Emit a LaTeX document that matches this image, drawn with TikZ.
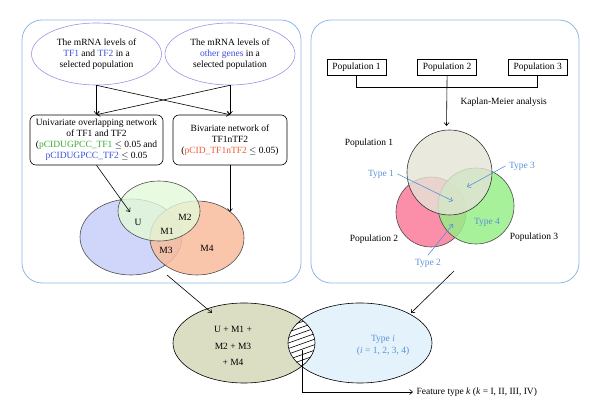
\documentclass[tikz,border=0pt]{standalone}
\usepackage{fontspec}
\setmainfont{Liberation Serif}
\usetikzlibrary{positioning,shapes.geometric,arrows.meta}

\definecolor{panelblue}{RGB}{140,185,232}
\definecolor{lavender}{RGB}{160,145,228}
\definecolor{genblue}{RGB}{60,80,220}
\definecolor{pgreen}{RGB}{60,170,50}
\definecolor{pred}{RGB}{240,90,50}
\definecolor{typeblue}{RGB}{90,145,215}
\definecolor{setblue}{RGB}{207,214,250}
\definecolor{setgreen}{RGB}{226,249,216}
\definecolor{setorange}{RGB}{249,188,156}
\definecolor{popgrey}{RGB}{228,228,214}
\definecolor{poppink}{RGB}{251,143,170}
\definecolor{popgreen}{RGB}{150,238,135}
\definecolor{sumolive}{RGB}{220,222,196}
\definecolor{typesky}{RGB}{228,242,252}

\tikzset{
  panel/.style={draw=panelblue, line width=0.8pt, rounded corners=20pt},
  lvl/.style={ellipse, draw=lavender, align=center, minimum width=130pt, minimum height=62pt, inner sep=0pt},
  netbox/.style={draw, rounded corners=6pt, align=center, minimum height=50pt, inner sep=1pt},
  popbox/.style={draw, minimum width=59pt, minimum height=16pt, inner sep=1pt},
  typetext/.style={text=typeblue},
  typearrow/.style={->, draw=typeblue},
}

\begin{document}
\begin{tikzpicture}[x=1pt, y=-1pt, font=\fontsize{9.5}{11}\selectfont, semithick,
    >={Straight Barb[length=3pt,width=5pt]}]
  \useasboundingbox (0,0) rectangle (600,419);

  % two panels
  \draw[panel] (22,20) rectangle (301,283);
  \draw[panel] (311,20) rectangle (579,283);

  % left panel: inputs and networks
  \node[lvl] (lvlTF) at (96.5,54) {The mRNA levels of\\\textcolor{genblue}{TF1} and \textcolor{genblue}{TF2} in a\\selected population};
  \node[lvl] (lvlOther) at (230,54) {The mRNA levels of\\\textcolor{genblue}{other genes} in a\\selected population};

  \node[netbox, minimum width=133pt] (uni) at (96.5,140) {Univariate overlapping network\\of TF1 and TF2\\(\textcolor{pgreen}{pCIDUGPCC\_TF1} $\leq$ 0.05 and\\\textcolor{genblue}{pCIDUGPCC\_TF2} $\leq$ 0.05};
  \node[netbox, minimum width=114pt] (bi) at (230,140) {Bivariate network of\\TF1nTF2\\(\textcolor{pred}{pCID\_TF1nTF2} $\leq$ 0.05)};

  \draw[->] (lvlTF.south) -- (uni.north);
  \draw[->] (lvlTF.south) -- (bi.north);
  \draw[->] (lvlOther.south) -- (bi.north);
  \draw[->] (lvlOther.south) -- (uni.north);

  % left Venn
  \node[ellipse, draw=black!70, fill=setblue, minimum width=102pt, minimum height=76pt] (setBlue) at (131,237) {};
  \node[ellipse, draw=black!70, fill=setorange, fill opacity=0.85, minimum width=94pt, minimum height=74pt] (setOrange) at (197,238) {};
  \node[ellipse, draw=black!70, fill=setgreen, fill opacity=0.8, minimum width=82pt, minimum height=60pt] (setGreen) at (159,211) {};
  \node (lbU) at (138,222) {U};
  \node (lbM2) at (185,217) {M2};
  \node (lbM1) at (167,231) {M1};
  \node (lbM3) at (166,250) {M3};
  \node (lbM4) at (207,248) {M4};

  \coordinate (uIn) at (130,212);
  \coordinate (m4In) at (230,212);
  \draw[->] (uni.south) -- (uIn);
  \draw[->] (bi.south) -- (m4In);

  % right panel: populations
  \node[popbox] (pop1) at (356.5,67) {Population 1};
  \node[popbox, right=31pt of pop1] (pop2) {Population 2};
  \node[popbox, right=31pt of pop2] (pop3) {Population 3};
  \draw (pop1.south) -- ++(0,12) -| (pop3.south);
  \coordinate (kmIn) at (446.5,126);
  \draw[->] (pop2.south) -- (kmIn);
  \node[anchor=west] (km) at (457,102) {Kaplan-Meier analysis};

  % right Venn
  \node[circle, draw=black!70, fill=poppink, minimum size=70pt] (cPink) at (431,212) {};
  \node[circle, draw=black!70, fill=popgreen, fill opacity=0.85, minimum size=76pt] (cGreen) at (476,206) {};
  \node[circle, draw=black!80, fill=popgrey, fill opacity=0.8, minimum size=85pt] (cGrey) at (449.5,172.5) {};
  \node (lbPop1) at (369,143) {Population 1};
  \node (lbPop2) at (374,239) {Population 2};
  \node (lbPop3) at (534,237) {Population 3};

  \node[typetext] (t1) at (381,174) {Type 1};
  \node[typetext] (t3) at (522,166) {Type 3};
  \node[typetext] (t2) at (428,263) {Type 2};
  \node[typetext] (t4) at (487,222) {Type 4};
  \coordinate (t1In) at (453,201);
  \coordinate (t3In) at (467,187);
  \coordinate (t2In) at (453,224);
  \draw[typearrow] (t1.east) -- (t1In);
  \draw[typearrow] (t3.west) -- (t3In);
  \draw[typearrow] (t2.north) -- (t2In);

  % bottom: combined sets
  \node[ellipse, fill=sumolive, minimum width=142pt, minimum height=80pt] (sumM) at (244,343) {};
  \node[ellipse, fill=typesky, minimum width=144pt, minimum height=80pt] (typeI) at (360,343) {};
  \begin{scope}
    \clip (244,343) ellipse (71pt and 40pt);
    \clip (360,343) ellipse (72pt and 40pt);
    \fill[white] (280,300) rectangle (320,390);
    \foreach \k in {0,...,22}
      \draw (280,302+5.5*\k) -- ++(45,-16);
  \end{scope}
  \draw (244,343) ellipse (71pt and 40pt);
  \draw (360,343) ellipse (72pt and 40pt);

  \node[align=center, font=\fontsize{9.5}{16.5}\selectfont] (sumTxt) at (233,346) {U + M1 +\\M2 + M3\\+ M4};
  \node[typetext, align=center, font=\fontsize{9.5}{12}\selectfont] (typeTxt) at (383,345) {Type \textit{i}\\(\textit{i} = 1, 2, 3, 4)};

  \coordinate (leftOut) at (167,275);
  \coordinate (sumIn) at (212,313);
  \coordinate (rightOut) at (454,271);
  \coordinate (typeIn) at (411,313);
  \draw[->] (leftOut) -- (sumIn);
  \draw[->] (rightOut) -- (typeIn);

  \coordinate (featStart) at (302,350);
  \node[anchor=west] (feat) at (413,392) {Feature type \textit{k} (\textit{k} = I, II, III, IV)};
  \draw[->] (featStart) |- (feat.west);
\end{tikzpicture}
\end{document}
